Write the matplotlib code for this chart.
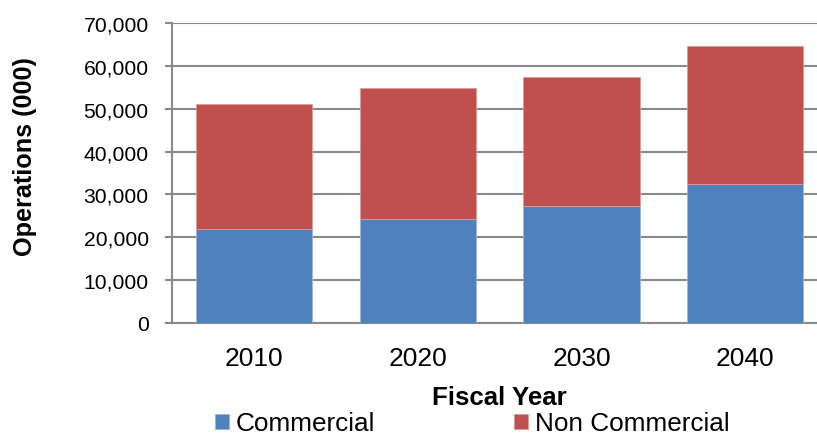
import matplotlib
matplotlib.use('Agg')
import numpy as np
import matplotlib.pyplot as plt
from matplotlib.ticker import FuncFormatter

# Данные: операции (тыс.) по финансовым годам
years = ['2010', '2020', '2030', '2040']
commercial = [21930, 24190, 27220, 32360]
non_commercial = [29240, 30570, 30260, 32200]

blue = '#4F81BD'
red = '#C0504D'
grid_gray = '#898989'

plt.rcParams['font.family'] = ['Liberation Sans', 'DejaVu Sans']

fig = plt.figure(figsize=(8.17, 4.39), dpi=100)
ax = fig.add_axes([0.2109, 0.262, 0.8013, 0.6833])

x = np.arange(len(years))
w = 0.712
ax.bar(x, commercial, w, color=blue, edgecolor='#9DB7DB', linewidth=0.6,
       label='Commercial', zorder=3)
ax.bar(x, non_commercial, w, bottom=commercial, color=red, edgecolor='#DB9A98',
       linewidth=0.6, label='Non Commercial', zorder=3)

ax.set_xlim(-0.5, 3.5)
ax.set_ylim(0, 70000)
ax.set_yticks(np.arange(0, 70001, 10000))
ax.yaxis.set_major_formatter(FuncFormatter(lambda v, p: f'{int(v):,}'))
ax.set_xticks(x)
ax.set_xticklabels(years)

ax.grid(axis='y', color=grid_gray, linewidth=1.5, zorder=0)
for side in ['top', 'right']:
    ax.spines[side].set_visible(False)
for side in ['left', 'bottom']:
    ax.spines[side].set_color(grid_gray)
    ax.spines[side].set_linewidth(1.5)

ax.tick_params(axis='y', length=5, width=1.5, color=grid_gray, pad=12,
               labelsize=15.2, labelcolor='black')
ax.tick_params(axis='x', length=0, pad=16.5, labelsize=19)

ax.set_ylabel('Operations (000)', fontsize=18.2, fontweight='bold')
ax.yaxis.set_label_coords(-0.206, 0.557)
ax.set_xlabel('Fiscal Year', fontsize=18.6, fontweight='bold', labelpad=11)

# легенда внизу, под подписью оси
fig.legend(loc='lower left', bbox_to_anchor=(0.2505, -0.018), ncol=2,
           frameon=False, fontsize=18.8, handlelength=0.53, handleheight=0.53,
           handletextpad=0.27, columnspacing=5.3, borderaxespad=0)

fig.savefig('out.png', dpi=100)
